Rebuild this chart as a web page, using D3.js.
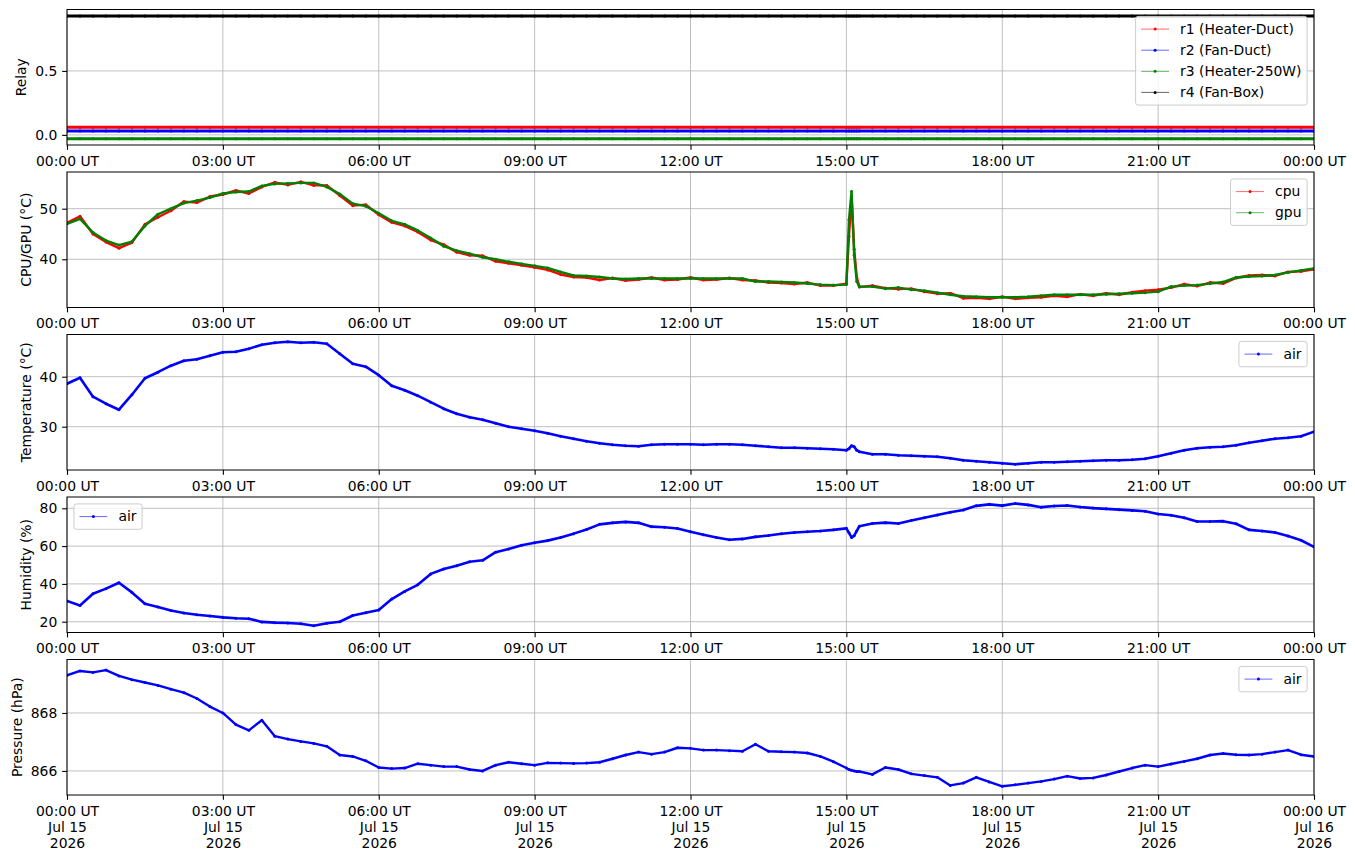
<!DOCTYPE html>
<html>
<head>
<meta charset="utf-8">
<script src="https://cdn.jsdelivr.net/npm/d3@7"></script>
<style>
  body { margin: 0; background: #fff; }
  text { font-family: "DejaVu Sans", sans-serif; }
</style>
</head>
<body>
<div id="chart"></div>
<script>
// sample times: minutes after 00:00 UT, Jul 15 2026 (denser around the 15:00 spike)
const minutes = [...d3.range(0, 900, 15), 900, 903, 906, 909, 912, ...d3.range(915, 1441, 15)];

const relayNames = ["r1 (Heater-Duct)", "r2 (Fan-Duct)", "r3 (Heater-250W)", "r4 (Fan-Box)"];
const relayLevels = [0.06, 0.03, -0.03, 0.93];

const cpuTemp = [
  47.2, 48.5, 45.0, 43.4,  42.2, 43.3, 46.9, 48.3,  49.6, 51.4, 51.2, 52.4,
  52.8, 53.6, 53.0, 54.3,  55.2, 54.7, 55.3, 54.6,  54.6, 52.6, 50.6, 50.8,
  48.8, 47.3, 46.6, 45.4,  43.8, 42.9, 41.4, 40.8,  40.7, 39.6, 39.2, 38.8,
  38.4, 37.9, 37.0, 36.5,  36.4, 35.9, 36.3, 35.8,  36.0, 36.4, 35.9, 36.0,
  36.4, 35.9, 36.0, 36.3,  35.9, 35.8, 35.4, 35.3,  35.1, 35.4, 34.8, 34.8,
  35.2, 44.5, 52.4, 42.0, 36.5,
  34.5, 34.8, 34.3,  34.1, 34.2, 33.6, 33.2,  33.3, 32.3, 32.4, 32.2,
  32.6, 32.2, 32.4, 32.5,  32.8, 32.6, 33.1, 32.8,  33.3, 33.0, 33.5, 33.8,
  34.0, 34.4, 35.1, 34.7,  35.4, 35.2, 36.3, 36.8,  36.9, 36.7, 37.5, 37.6,  38.0
];
const gpuTemp = [
  47.0, 48.0, 45.3, 43.7,  42.8, 43.5, 46.6, 48.9,  50.0, 51.1, 51.6, 52.2,
  53.0, 53.3, 53.4, 54.5,  54.9, 55.0, 55.1, 55.1,  54.3, 52.9, 51.0, 50.5,
  49.1, 47.6, 46.9, 45.7,  44.2, 42.6, 41.7, 41.1,  40.4, 40.0, 39.5, 39.1,
  38.7, 38.3, 37.5, 36.8,  36.7, 36.5, 36.2, 36.1,  36.2, 36.2, 36.2, 36.2,
  36.2, 36.2, 36.2, 36.2,  36.2, 35.6, 35.6, 35.5,  35.4, 35.2, 35.0, 34.9,
  35.0, 47.8, 53.4, 40.8, 35.6,
  34.6, 34.6, 34.2,  34.4, 34.0, 33.8, 33.4,  33.0, 32.7, 32.6, 32.5,
  32.5, 32.5, 32.6, 32.8,  33.0, 33.0, 33.0, 33.0,  33.1, 33.2, 33.3, 33.4,
  33.6, 34.6, 34.8, 34.9,  35.2, 35.5, 36.4, 36.6,  36.7, 36.9, 37.4, 37.8,  38.2
];
const airTemp = [
  38.6, 39.8, 36.0, 34.6,  33.4, 36.4, 39.7, 40.9,  42.2, 43.2, 43.5, 44.2,
  44.9, 45.0, 45.6, 46.4,  46.8, 47.0, 46.8, 46.9,  46.6, 44.6, 42.6, 42.0,
  40.3, 38.2, 37.3, 36.2,  34.9, 33.6, 32.6, 31.9,  31.4, 30.7, 30.0, 29.6,
  29.2, 28.7, 28.1, 27.6,  27.1, 26.7, 26.4, 26.2,  26.1, 26.4, 26.5, 26.5,
  26.5, 26.4, 26.5, 26.5,  26.4, 26.2, 26.0, 25.8,  25.8, 25.7, 25.6, 25.5,
  25.3, 25.6, 26.2, 26.0, 25.3,
  25.0, 24.5, 24.5,  24.3, 24.2, 24.1, 24.0,  23.7, 23.3, 23.1, 22.9,
  22.7, 22.5, 22.7, 22.9,  22.9, 23.0, 23.1, 23.2,  23.3, 23.3, 23.4, 23.6,
  24.1, 24.7, 25.3, 25.7,  25.9, 26.0, 26.3, 26.8,  27.2, 27.6, 27.8, 28.1,  29.0
];
const airHumidity = [
  31.0, 28.6, 34.8, 37.5,  40.6, 35.5, 29.5, 27.8,  25.9, 24.6, 23.7, 23.0,
  22.3, 21.8, 21.6, 19.9,  19.5, 19.3, 18.9, 17.9,  19.2, 20.0, 23.3, 24.7,
  26.2, 32.0, 36.0, 39.5,  45.3, 47.9, 49.6, 51.7,  52.5, 56.8, 58.5, 60.4,
  61.8, 62.9, 64.6, 66.6,  68.8, 71.5, 72.3, 72.8,  72.3, 70.3, 70.0, 69.3,
  67.6, 66.0, 64.6, 63.4,  63.8, 64.9, 65.6, 66.5,  67.2, 67.6, 68.0, 68.6,
  69.4, 67.0, 64.6, 65.5, 68.0,
  70.5, 72.0, 72.4,  72.0, 73.6, 75.0, 76.5,  77.9, 79.1, 81.3, 82.1,
  81.4, 82.5, 81.8, 80.6,  81.2, 81.5, 80.7, 80.1,  79.7, 79.3, 78.9, 78.4,
  77.0, 76.3, 75.0, 73.0,  73.0, 73.2, 71.8, 68.6,  68.0, 67.2, 65.3, 63.1,  59.6
];
const airPressure = [
  869.30, 869.45, 869.40, 869.48,  869.28, 869.15, 869.05, 868.95,
  868.82, 868.70, 868.50, 868.22,  868.00, 867.60, 867.40, 867.75,
  867.20, 867.10, 867.02, 866.95,  866.85, 866.55, 866.50, 866.35,
  866.12, 866.08, 866.10, 866.25,  866.20, 866.15, 866.15, 866.05,
  866.00, 866.20, 866.30, 866.25,  866.20, 866.28, 866.27, 866.26,
  866.27, 866.30, 866.42, 866.55,  866.65, 866.58, 866.65, 866.80,
  866.78, 866.72, 866.72, 866.70,  866.68, 866.92, 866.68, 866.66,
  866.65, 866.62, 866.50, 866.32,
  866.10, 866.05, 866.02, 866.00, 865.98,
  865.98, 865.88, 866.12,  866.05, 865.90, 865.84, 865.78,  865.50, 865.58, 865.78, 865.62,
  865.47, 865.52, 865.58, 865.64,  865.72, 865.82, 865.74, 865.76,  865.86, 865.98, 866.10, 866.20,
  866.15, 866.24, 866.33, 866.42,  866.55, 866.60, 866.56, 866.55,  866.58, 866.65, 866.72, 866.56,  866.50
];

const W = 1355, H = 861;
const left = 67, right = 1314, ph = 135.5, step = 162.5, top0 = 9.5;
const fs = 13.9;

const svg = d3.select("#chart").append("svg").attr("width", W).attr("height", H);

const t0 = Date.UTC(2026, 6, 15);
const times = minutes.map(m => new Date(t0 + m * 60000));
const x = d3.scaleUtc()
  .domain([new Date(t0), new Date(t0 + 1440 * 60000)])
  .range([left, right]);
const hourTicks = x.ticks(d3.utcHour.every(3));

const panels = [
  {label: "Relay", domain: [-0.079, 0.980], ticks: [0, 0.5], fmt: d3.format(".1f"), legend: "right", width: 3,
   series: relayLevels.map((v, k) => ({name: relayNames[k], color: ["red", "blue", "green", "black"][k], values: minutes.map(() => v)}))},
  {label: "CPU/GPU (°C)", domain: [30.47, 57.25], ticks: [40, 50], fmt: d3.format("d"), legend: "right", width: 2.4,
   series: [{name: "cpu", color: "red", values: cpuTemp}, {name: "gpu", color: "green", values: gpuTemp}]},
  {label: "Temperature (°C)", domain: [21.34, 48.44], ticks: [30, 40], fmt: d3.format("d"), legend: "right", width: 2.6,
   series: [{name: "air", color: "blue", values: airTemp}]},
  {label: "Humidity (%)", domain: [14.29, 85.98], ticks: [20, 40, 60, 80], fmt: d3.format("d"), legend: "left", width: 2.6,
   series: [{name: "air", color: "blue", values: airHumidity}]},
  {label: "Pressure (hPa)", domain: [865.17, 869.845], ticks: [866, 868], fmt: d3.format("d"), legend: "right", width: 2.4,
   series: [{name: "air", color: "blue", values: airPressure}]}
];

function textWidth(str) {
  const t = svg.append("text").attr("font-size", fs).text(str);
  const w = t.node().getComputedTextLength();
  t.remove();
  return w;
}

function drawLegend(g, series, side) {
  const pad = 5.6, hl = 27.8, htp = 11.1, ls = 6.9, rh = 14.2, bap = 6.9;
  const maxW = d3.max(series, s => textWidth(s.name));
  const bw = 2 * pad + hl + htp + maxW;
  const bh = 2 * pad + series.length * rh + (series.length - 1) * ls;
  const x0 = side === "right" ? right - bap - bw : left + bap;
  const y0 = bap;
  const lg = g.append("g");
  lg.append("rect").attr("x", x0).attr("y", y0).attr("width", bw).attr("height", bh)
    .attr("rx", 2.5).attr("fill", "white").attr("fill-opacity", 0.8)
    .attr("stroke", "#cccccc").attr("stroke-width", 1);
  series.forEach((s, k) => {
    const cy = y0 + pad + rh / 2 + k * (rh + ls);
    lg.append("line").attr("x1", x0 + pad).attr("x2", x0 + pad + hl).attr("y1", cy).attr("y2", cy)
      .attr("stroke", s.color).attr("stroke-width", 0.8).attr("stroke-opacity", 0.75);
    lg.append("circle").attr("cx", x0 + pad + hl / 2).attr("cy", cy).attr("r", 1.5).attr("fill", s.color);
    lg.append("text").attr("x", x0 + pad + hl + htp).attr("y", cy + 4.4)
      .attr("font-size", fs).attr("fill", "black").text(s.name);
  });
}

panels.forEach((p, i) => {
  const top = top0 + step * i;
  const g = svg.append("g").attr("transform", `translate(0,${top})`);
  const y = d3.scaleLinear().domain(p.domain).range([ph, 0]);

  g.append("clipPath").attr("id", "clip" + i).append("rect")
    .attr("x", left).attr("y", 0).attr("width", right - left).attr("height", ph);

  // grid
  g.append("g").selectAll("line").data(hourTicks).join("line")
    .attr("x1", d => x(d)).attr("x2", d => x(d)).attr("y1", 0).attr("y2", ph)
    .attr("stroke", "#b0b0b0").attr("stroke-width", 0.8);
  g.append("g").selectAll("line").data(p.ticks).join("line")
    .attr("x1", left).attr("x2", right).attr("y1", d => y(d)).attr("y2", d => y(d))
    .attr("stroke", "#b0b0b0").attr("stroke-width", 0.8);

  // series
  const plot = g.append("g").attr("clip-path", `url(#clip${i})`);
  const line = d3.line().x(d => d[0]).y(d => d[1]);
  p.series.forEach(s => {
    const pts = times.map((t, k) => [x(t), y(s.values[k])]);
    plot.append("path").attr("d", line(pts)).attr("fill", "none")
      .attr("stroke", s.color).attr("stroke-width", p.width).attr("stroke-linejoin", "round");
    plot.append("g").selectAll("circle").data(pts).join("circle")
      .attr("cx", d => d[0]).attr("cy", d => d[1]).attr("r", 1.5).attr("fill", s.color);
  });

  // spine
  g.append("rect").attr("x", left).attr("y", 0).attr("width", right - left).attr("height", ph)
    .attr("fill", "none").attr("stroke", "black").attr("stroke-width", 1);

  // x axis
  const last = i === panels.length - 1;
  const xa = g.append("g").attr("transform", `translate(0,${ph})`)
    .call(d3.axisBottom(x).tickValues(hourTicks).tickSize(4.86).tickPadding(5.8)
      .tickFormat(d3.utcFormat("%H:%M UT")));
  xa.select(".domain").remove();
  xa.attr("font-size", fs).attr("font-family", "DejaVu Sans");
  xa.selectAll(".tick line").attr("stroke-width", 1.1);
  if (last) {
    xa.selectAll(".tick text").each(function(d) {
      const t = d3.select(this);
      t.text(null).attr("dy", null);
      [d3.utcFormat("%H:%M UT")(d), d3.utcFormat("%b %d")(d), d3.utcFormat("%Y")(d)].forEach((s, k) => {
        t.append("tspan").attr("x", 0).attr("dy", k === 0 ? "0.71em" : 16.4).text(s);
      });
    });
  }

  // y axis
  const ya = g.append("g").attr("transform", `translate(${left},0)`)
    .call(d3.axisLeft(y).tickValues(p.ticks).tickSize(4.86).tickPadding(4.86).tickFormat(p.fmt));
  ya.select(".domain").remove();
  ya.attr("font-size", fs).attr("font-family", "DejaVu Sans");
  ya.selectAll(".tick line").attr("stroke-width", 1.1);
  const minX = left + d3.min(ya.selectAll("text").nodes(), n => n.getBBox().x);
  g.append("text")
    .attr("transform", `translate(${minX - 8.9},${ph / 2}) rotate(-90)`)
    .attr("text-anchor", "middle").attr("font-size", fs).text(p.label);

  drawLegend(g, p.series, p.legend);
});
</script>
</body>
</html>
